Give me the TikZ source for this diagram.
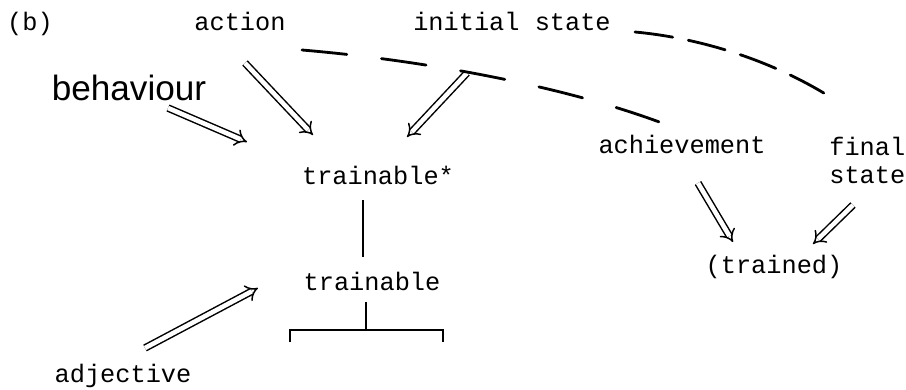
\documentclass[tikz,border=0pt]{standalone}
\usepackage{fontspec}
\setmainfont{Liberation Mono}
\newfontfamily\handfont{Liberation Sans}
\usetikzlibrary{arrows.meta}

\begin{document}
\begin{tikzpicture}[
        x=0.02cm, y=-0.02cm,
        word/.style={inner sep=0pt, anchor=base, font=\fontsize{14.4}{15.4}\selectfont},
        hand/.style={inner sep=0pt, anchor=base, font=\handfont\fontsize{20}{22}\selectfont},
        dbl/.style={double, double distance=2.6pt, line width=0.85pt, -{Implies[scale=1.3]}},
        stem/.style={line width=1.4pt},
        curl/.style={line width=1.6pt, line cap=round}
    ]
        \useasboundingbox (0,0) rectangle (906,389);

        % labels
        \node[word] (tag) at (30,30) {(b)};
        \node[word] (action) at (240,30) {action};
        \node[word] (init) at (512,30) {initial state};
        \node[hand] (beh) at (129,100) {behaviour};
        \node[word] (tstar) at (378,184) {trainable*};
        \node[word] (achv) at (682,153) {achievement};
        \node[word, anchor=base west, align=left] (final) at (829,183) {final\\state};
        \node[word] (tr) at (372,290) {trainable};
        \node[word] (trained) at (774,273) {(trained)};
        \node[word] (adj) at (123,382) {adjective};

        % arrow ends
        \coordinate (beh-out) at (168,108);
        \coordinate (tstar-in1) at (247,142);
        \coordinate (action-out) at (245,63);
        \coordinate (tstar-in2) at (313,135);
        \coordinate (init-out) at (467,73);
        \coordinate (tstar-in3) at (407,137);
        \coordinate (achv-out) at (698,183);
        \coordinate (trained-in1) at (733,242);
        \coordinate (final-out) at (853,205);
        \coordinate (trained-in2) at (813,244);
        \coordinate (adj-out) at (145,348);
        \coordinate (tr-in) at (258,288);

        \draw[dbl] (beh-out) -- (tstar-in1);
        \draw[dbl] (action-out) -- (tstar-in2);
        \draw[dbl] (init-out) -- (tstar-in3);
        \draw[dbl] (achv-out) -- (trained-in1);
        \draw[dbl] (final-out) -- (trained-in2);
        \draw[dbl] (adj-out) -- (tr-in);

        % tree lines
        \coordinate (tstar-foot) at (363,200);
        \coordinate (tr-head) at (363,257);
        \coordinate (tr-foot) at (366,302);
        \coordinate (fork) at (366,330);
        \draw[stem] (tstar-foot) -- (tr-head);
        \draw[stem] (tr-foot) -- (fork);
        \draw[stem] (290,342) -- (290,330) -- (443,330) -- (443,342);

        % dashed curves
        \coordinate (action-tail) at (302,50);
        \coordinate (achv-head) at (662,123);
        \coordinate (init-tail) at (635,32);
        \coordinate (final-head) at (827,95);
        \draw[curl, dash pattern=on 0.9cm off 0.7cm]
            (action-tail) .. controls (420,60) and (560,85) .. (achv-head);
        \draw[curl, dash pattern=on 0.76cm off 0.32cm]
            (init-tail) .. controls (700,38) and (770,60) .. (final-head);
    \end{tikzpicture}
\end{document}
